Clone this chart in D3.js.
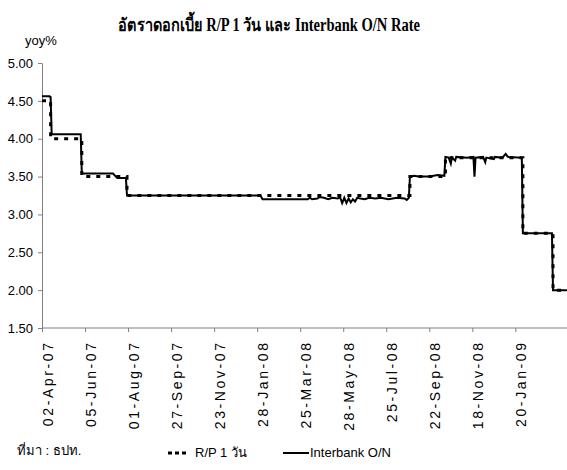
<!DOCTYPE html>
<html>
<head>
<meta charset="utf-8">
<script src="https://d3js.org/d3.v7.min.js"></script>
<style>
  body { margin: 0; background: #fff; }
  text { font-family: "Liberation Sans", Arial, sans-serif; fill: #000; }
  .title { font-family: "Liberation Serif", "Times New Roman", serif; font-weight: bold; }
  .axis path, .axis line { stroke: #808080; }
</style>
</head>
<body>
<script>
// observation index of each x tick and its label (category axis, every 40 business days)
var tickIdx = [0, 40, 80, 120, 160, 200, 240, 280, 320, 360, 400, 440];
var tickLabels = ['02-Apr-07', '05-Jun-07', '01-Aug-07', '27-Sep-07', '23-Nov-07', '28-Jan-08',
                  '25-Mar-08', '28-May-08', '25-Jul-08', '22-Sep-08', '18-Nov-08', '20-Jan-09'];
var yTicks = [1.5, 2, 2.5, 3, 3.5, 4, 4.5, 5];

// R/P 1 day: value held from each index until the next one
var rpIdx = [0, 8, 37, 79, 342, 375, 447, 475, 488];
var rpVal = [4.50, 4.00, 3.50, 3.25, 3.50, 3.75, 2.75, 2.00, 2.00];

// Interbank O/N: points
var ibIdx = [0, 7, 8, 9, 36, 37, 66, 70, 78, 79, 203, 205, 247, 249, 251, 256, 258, 262, 266, 270,
             275, 277, 279, 281, 283, 285, 287, 289, 291, 293, 296, 300, 304, 310, 315, 322, 330, 337,
             339, 341, 342, 346, 350, 360, 368, 374, 375, 378, 380, 381, 384, 385, 395, 401, 402, 403,
             410, 412, 413, 420, 421, 428, 431, 433, 446, 447, 474, 475, 488];
var ibVal = [4.56, 4.56, 4.55, 4.06, 4.06, 3.54, 3.54, 3.48, 3.48, 3.25, 3.25, 3.20, 3.20, 3.22, 3.20,
             3.21, 3.23, 3.22, 3.20, 3.22, 3.21, 3.23, 3.15, 3.22, 3.15, 3.21, 3.16, 3.20, 3.17, 3.22,
             3.21, 3.20, 3.22, 3.21, 3.22, 3.20, 3.22, 3.21, 3.19, 3.22, 3.50, 3.51, 3.50, 3.50, 3.52,
             3.51, 3.76, 3.75, 3.67, 3.75, 3.71, 3.76, 3.75, 3.76, 3.50, 3.75, 3.76, 3.69, 3.75, 3.73,
             3.76, 3.75, 3.80, 3.76, 3.75, 2.75, 2.75, 2.00, 2.00];

var w = 567;
var h = 470;
var margin = {top: 63, left: 42, bottom: 142, right: 0};

var svg = d3.select('body').append('svg')
            .attr('width', w)
            .attr('height', h);

var x = d3.scaleLinear()
          .domain([0, 488])
          .range([margin.left, w - margin.right]);
var y = d3.scaleLinear()
          .domain([1.5, 5])
          .range([h - margin.bottom, margin.top]);

var rp = rpIdx.map(function(d, i){ return {i: d, v: rpVal[i]}; });
var ib = ibIdx.map(function(d, i){ return {i: d, v: ibVal[i]}; });

// title + unit
svg.append('text')
   .classed('title', true)
   .attr('x', 118)
   .attr('y', 31)
   .attr('textLength', 302)
   .attr('lengthAdjust', 'spacingAndGlyphs')
   .style('font-size', '18px')
   .text('อัตราดอกเบี้ย R/P 1 วัน และ Interbank O/N Rate');
svg.append('text')
   .attr('x', 25)
   .attr('y', 45)
   .style('font-size', '13px')
   .text('yoy%');

// y axis
var yAxis = svg.append('g')
   .classed('axis', true)
   .attr('transform', 'translate(' + x(0) + ',0)')
   .call(d3.axisLeft(y).tickValues(yTicks).tickSize(4).tickSizeOuter(0)
           .tickFormat(d3.format('.2f')));
yAxis.selectAll('text')
   .attr('x', -9)
   .style('font-size', '13px')
   .style('font-family', '"Liberation Sans", Arial, sans-serif');

// x axis
var xAxis = svg.append('g')
   .classed('axis', true)
   .attr('transform', 'translate(0,' + y(1.5) + ')')
   .call(d3.axisBottom(x).tickValues(tickIdx).tickSize(4).tickSizeOuter(0)
           .tickFormat(function(d, i){ return tickLabels[i]; }));
xAxis.selectAll('text')
   .attr('transform', 'rotate(-90)')
   .attr('text-anchor', 'end')
   .attr('x', -15)
   .attr('y', 10)
   .attr('dy', 0)
   .style('font-size', '14px')
   .style('font-family', '"Liberation Sans", Arial, sans-serif')
   .each(function(d, i){ // letters spread out like the original, one tspan per char
     var t = d3.select(this).text(null);
     tickLabels[i].split('').forEach(function(c, k){
       t.append('tspan').attr('dx', k ? 2.6 : 0).text(c);
     });
   });
xAxis.select('.domain').attr('d', 'M' + x(0) + ',0H' + w);

// series
var stepLine = d3.line()
   .x(function(d){ return x(d.i); })
   .y(function(d){ return y(d.v); })
   .curve(d3.curveStepAfter);
var plainLine = d3.line()
   .x(function(d){ return x(d.i); })
   .y(function(d){ return y(d.v); });

svg.append('path')
   .datum(rp)
   .attr('d', stepLine)
   .attr('fill', 'none')
   .attr('stroke', '#000')
   .attr('stroke-width', 3)
   .attr('stroke-dasharray', '4,6');
svg.append('path')
   .datum(ib)
   .attr('d', plainLine)
   .attr('fill', 'none')
   .attr('stroke', '#000')
   .attr('stroke-width', 2);

// source + legend
svg.append('text')
   .attr('x', 17)
   .attr('y', 455)
   .style('font-size', '13px')
   .text('ที่มา : ธปท.');

var legend = svg.append('g').attr('transform', 'translate(0,453)');
legend.append('line')
   .attr('x1', 168).attr('x2', 186)
   .attr('stroke', '#000')
   .attr('stroke-width', 3)
   .attr('stroke-dasharray', '4,3');
legend.append('text')
   .attr('x', 195)
   .attr('y', 4)
   .style('font-size', '13px')
   .text('R/P 1 วัน');
legend.append('line')
   .attr('x1', 283).attr('x2', 309)
   .attr('stroke', '#000')
   .attr('stroke-width', 2);
legend.append('text')
   .attr('x', 310)
   .attr('y', 4)
   .style('font-size', '13px')
   .text('Interbank O/N');
</script>
</body>
</html>
